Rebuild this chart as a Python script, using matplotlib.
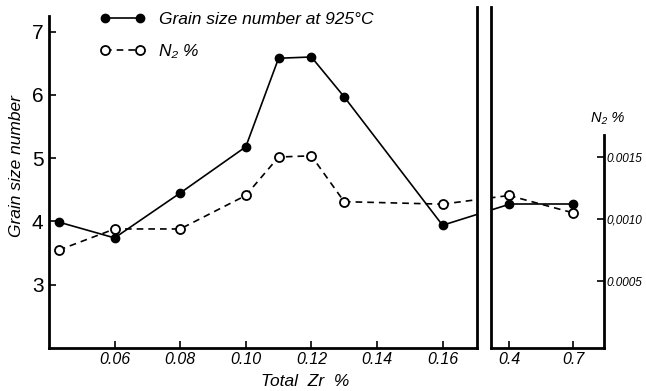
import matplotlib
matplotlib.use("Agg")
import matplotlib.pyplot as plt

plt.rcParams['font.family'] = ['Liberation Sans', 'DejaVu Sans']

# data
zr_low = [0.043, 0.06, 0.08, 0.10, 0.11, 0.12, 0.13, 0.16]
grain_low = [3.99, 3.74, 4.45, 5.18, 6.58, 6.6, 5.97, 3.94]
n2_low = [0.00075, 0.00092, 0.00092, 0.00119, 0.00150, 0.00151, 0.00114, 0.00112]

zr_high = [0.4, 0.7]
grain_high = [4.27, 4.27]
n2_high = [0.00119, 0.00105]

xticks_low = [0.06, 0.08, 0.10, 0.12, 0.14, 0.16]
xlabels_low = ['0.06', '0.08', '0.10', '0.12', '0.14', '0.16']
xticks_high = [0.4, 0.7]
xlabels_high = ['0.4', '0.7']
yticks_grain = [3, 4, 5, 6, 7]
yticks_n2 = [0.0005, 0.0010, 0.0015]
ylabels_n2 = ['0.0005', '0,0010', '0.0015']

W, H = 646, 391
fig = plt.figure(figsize=(W/100, H/100), dpi=100)

def box(x0, x1, ytop, ybot):
    # pixel box -> figure fraction
    return [x0/W, 1 - ybot/H, (x1-x0)/W, (ybot-ytop)/H]

ax1 = fig.add_axes(box(49, 477, 7, 348))
ax2 = fig.add_axes(box(491, 604, 7, 348))
ax1b = ax1.twinx()
ax2b = ax2.twinx()

ylim_g = (2.0, 7.39)
ylim_n = (-0.00004, 0.00271)
ax1.set_xlim(0.04, 0.1705)
ax2.set_xlim(0.316, 0.845)
for a in (ax1, ax2):
    a.set_ylim(*ylim_g)
for a in (ax1b, ax2b):
    a.set_ylim(*ylim_n)

lw = 1.2
solid = dict(color='black', lw=lw, marker='o', ms=6, mfc='black', mec='black')
dashed = dict(color='black', lw=lw, ls=(0, (4, 3)), marker='o', ms=6.5,
              mfc='white', mec='black', mew=1.3)

l1, = ax1.plot(zr_low, grain_low, zorder=3, **solid)
l2, = ax1b.plot(zr_low, n2_low, zorder=3, **dashed)
ax2.plot(zr_high, grain_high, zorder=3, **solid)
ax2b.plot(zr_high, n2_high, zorder=3, **dashed)

# lines across the axis break (straight in display space)
def bridge(axa, pa, axb, pb, **kw):
    A = axa.transData.transform(pa)
    B = axb.transData.transform(pb)
    pb_in_a = axa.transData.inverted().transform(B)
    pa_in_b = axb.transData.inverted().transform(A)
    axa.plot([pa[0], pb_in_a[0]], [pa[1], pb_in_a[1]], scalex=False, scaley=False, **kw)
    axb.plot([pa_in_b[0], pb[0]], [pa_in_b[1], pb[1]], scalex=False, scaley=False, **kw)

bridge(ax1, (zr_low[-1], grain_low[-1]), ax2, (zr_high[0], grain_high[0]),
       color='black', lw=lw)
bridge(ax1b, (zr_low[-1], n2_low[-1]), ax2b, (zr_high[0], n2_high[0]),
       color='black', lw=lw, ls=(0, (4, 3)))

# spines
sw = 2.0
for a in (ax1, ax2, ax1b, ax2b):
    for s in a.spines.values():
        s.set_visible(False)
        s.set_linewidth(sw)
ax1.spines['left'].set_visible(True)
ax1.spines['left'].set_bounds(2.0, 7.24)
ax1.spines['bottom'].set_visible(True)
ax1.spines['right'].set_visible(True)
ax2.spines['left'].set_visible(True)
ax2.spines['bottom'].set_visible(True)
ax2b.spines['right'].set_visible(True)
ax2b.spines['right'].set_bounds(ylim_n[0], 0.00168)

# ticks
ax1.set_xticks(xticks_low, xlabels_low, fontsize=11.5, style='italic')
ax1.set_yticks(yticks_grain, [str(v) for v in yticks_grain], fontsize=15)
ax1.tick_params(direction='in', length=5, width=1.2, pad=3)
ax1.tick_params(axis='y', pad=4)
ax1b.set_yticks([])
ax2.set_xticks(xticks_high, xlabels_high, fontsize=11.5, style='italic')
ax2.set_yticks([])
ax2.tick_params(direction='in', length=5, width=1.2, pad=3)
ax2b.set_yticks(yticks_n2, ylabels_n2, fontsize=8.5, style='italic')
ax2b.tick_params(direction='in', length=5, width=1.2, pad=2)

# labels
fig.text(17/W, 1 - 166/H, 'Grain size number', fontsize=12.5, style='italic',
         rotation=90, ha='center', va='center')
fig.text(305/W, 1 - 381/H, 'Total  Zr  %', fontsize=12.5, style='italic',
         ha='center', va='center')
fig.text(608/W, 1 - 118/H, 'N₂ %', fontsize=10.5, style='italic',
         ha='center', va='center')

ax1.legend(handles=[l1, l2], labels=['Grain size number at 925°C', 'N₂ %'],
           loc='upper left', bbox_to_anchor=(100/W, 1 - 12/H),
           bbox_transform=fig.transFigure, frameon=False, numpoints=2,
           handlelength=2.6, handletextpad=0.8, labelspacing=0.95,
           borderpad=0, borderaxespad=0,
           prop=dict(size=12.5, style='italic'))

fig.savefig('out.png', dpi=100)
